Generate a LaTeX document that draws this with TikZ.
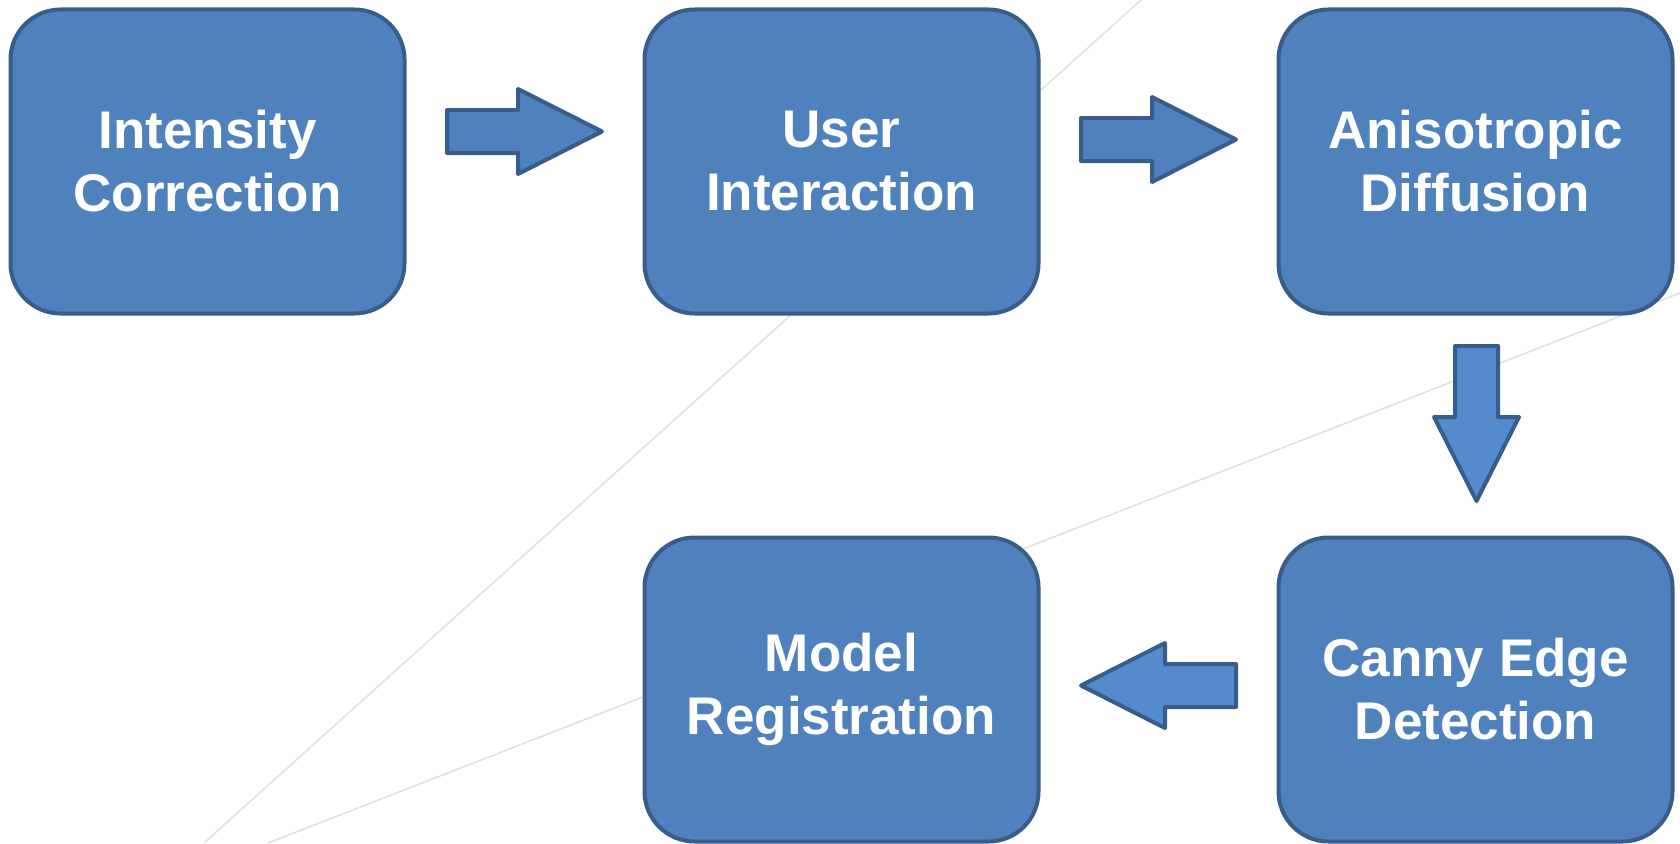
\documentclass[tikz,border=0pt]{standalone}
\usepackage{fontspec}
\setmainfont{Liberation Sans}
\usetikzlibrary{calc,positioning}
\definecolor{boxblue}{RGB}{79,129,189}
\definecolor{boxedge}{RGB}{56,93,138}
\definecolor{arrowblue}{RGB}{84,139,204}
\definecolor{bgline}{RGB}{226,226,226}

% block arrow drawn round a centre point: #1 centre, #2 angle, #3 fill
\newcommand{\stagearrow}[3]{%
  \draw[blk, fill=#3, shift={(#1)}, rotate=#2]
    (-77.5,-21.5) -- (-6.5,-21.5) -- (-6.5,-42.5) -- (77.5,0)
    -- (-6.5,42.5) -- (-6.5,21.5) -- (-77.5,21.5) -- cycle;}

\begin{document}
\begin{tikzpicture}[
    x=0.5pt, y=0.5pt,
    node distance=110pt and 118pt,
    stage/.style={draw=boxedge, fill=boxblue, line width=2pt, rounded corners=25pt, minimum width=197pt, minimum height=152pt, align=center, text=white, font=\bfseries\fontsize{26.5}{31.5}\selectfont},
    blk/.style={draw=boxedge, line width=2pt, line join=round}
  ]
    \useasboundingbox (0,0) rectangle (1680,843);

    % faint lines in the background
    \draw[bgline, line width=0.8pt] (1141,843) -- (204,0);
    \draw[bgline, line width=0.8pt] (1680,550) -- (268,0);

    \node[stage] (intensity) at (207.5,681.5) {Intensity\\Correction};
    \node[stage, right=of intensity] (user) {User\\Interaction};
    \node[stage, right=of user] (diffusion) {Anisotropic\\Diffusion};
    \node[stage, below=of diffusion] (canny) {Canny Edge\\Detection};
    \node[stage, left=of canny] (model) {Model\\Registration};

    \coordinate (a1) at ($(intensity.east)!0.5!(user.west)+(0,30)$);
    \coordinate (a2) at ($(user.east)!0.5!(diffusion.west)+(0,22)$);
    \coordinate (a3) at ($(diffusion.south)!0.5!(canny.north)+(1,2)$);
    \coordinate (a4) at ($(canny.west)!0.5!(model.east)+(0,4)$);

    \stagearrow{a1}{0}{boxblue}
    \stagearrow{a2}{0}{boxblue}
    \stagearrow{a3}{-90}{arrowblue}
    \stagearrow{a4}{180}{arrowblue}
  \end{tikzpicture}
\end{document}
